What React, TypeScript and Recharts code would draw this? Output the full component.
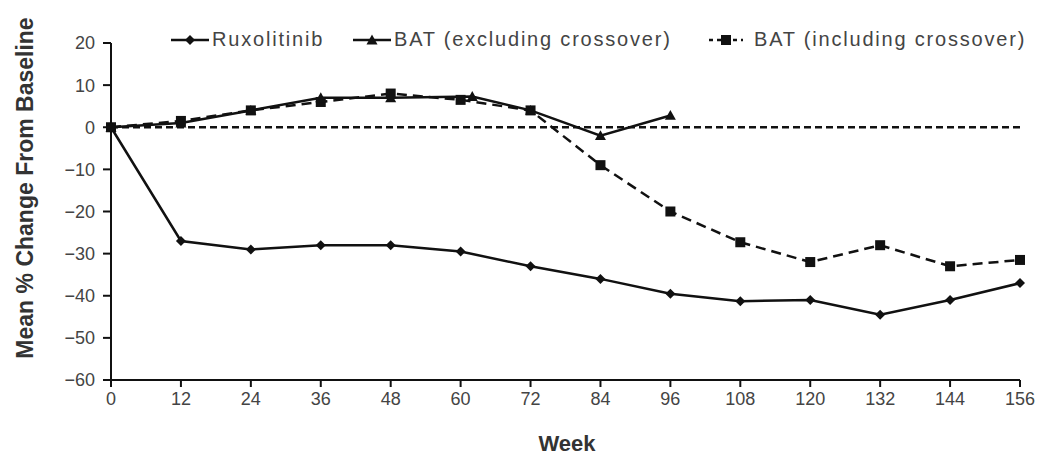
import React from 'react';
import {
  LineChart,
  Line,
  XAxis,
  YAxis,
  ReferenceLine,
} from 'recharts';

const weeks = [0, 12, 24, 36, 48, 60, 72, 84, 96, 108, 120, 132, 144, 156];
const ruxolitinib = [0, -27, -29, -28, -28, -29.5, -33, -36, -39.5, -41.3, -41, -44.5, -41, -37];
const batIncluding = [0, 1.5, 4, 6, 8, 6.5, 4, -9, -20, -27.3, -32, -28, -33, -31.5];
const batExcludingWeeks = [0, 12, 24, 36, 48, 62, 72, 84, 96];
const batExcluding = [0, 1, 4, 7, 7, 7.3, 4, -2, 2.8];
const yTicks = [-60, -50, -40, -30, -20, -10, 0, 10, 20];

const mainData = weeks.map((w, i) => ({ week: w, rux: ruxolitinib[i], batIn: batIncluding[i] }));
const exclData = batExcludingWeeks.map((w, i) => ({ week: w, batEx: batExcluding[i] }));

const INK = '#111';
const TEXT = '#444';
const FONT = '"Liberation Sans", Arial, sans-serif';

const Diamond = (props: any) => {
  const { cx, cy } = props;
  if (cx == null || cy == null) return null;
  const r = 5;
  return <polygon points={`${cx},${cy - r} ${cx + r},${cy} ${cx},${cy + r} ${cx - r},${cy}`} fill={INK} />;
};

const Triangle = (props: any) => {
  const { cx, cy } = props;
  if (cx == null || cy == null) return null;
  const r = 5.5;
  return <polygon points={`${cx},${cy - r} ${cx + r},${cy + r * 0.8} ${cx - r},${cy + r * 0.8}`} fill={INK} />;
};

const Square = (props: any) => {
  const { cx, cy } = props;
  if (cx == null || cy == null) return null;
  const r = 5;
  return <rect x={cx - r} y={cy - r} width={2 * r} height={2 * r} fill={INK} />;
};

// legend sits above the plot, positioned by hand
const legendItems = [
  { label: 'Ruxolitinib', marker: 'diamond', dashed: false, left: 170 },
  { label: 'BAT (excluding crossover)', marker: 'triangle', dashed: false, left: 352 },
  { label: 'BAT (including crossover)', marker: 'square', dashed: true, left: 708 },
];

const LegendRow = () => (
  <>
    {legendItems.map((item) => (
      <div
        key={item.label}
        style={{
          position: 'absolute',
          left: item.left,
          top: 28,
          display: 'flex',
          alignItems: 'center',
          fontFamily: FONT,
          fontSize: 20,
          letterSpacing: 1.8,
          color: TEXT,
          whiteSpace: 'nowrap',
        }}
      >
        <svg width={item.dashed ? 36 : 40} height={14}>
          <line x1={1} y1={7} x2={item.dashed ? 35 : 39} y2={7} stroke={INK} strokeWidth={2.5} strokeDasharray={item.dashed ? '4 4' : undefined} />
          {item.marker === 'diamond' && <Diamond cx={20} cy={7} />}
          {item.marker === 'triangle' && <Triangle cx={20} cy={7} />}
          {item.marker === 'square' && <Square cx={18} cy={7} />}
        </svg>
        <span style={{ marginLeft: item.dashed ? 10 : 2 }}>{item.label}</span>
      </div>
    ))}
  </>
);

const fmt = (v: number) => (v < 0 ? `\u2212${Math.abs(v)}` : `${v}`);

const YLabel = () => (
  <text x={33} y={188} transform="rotate(-90, 33, 188)" textAnchor="middle" fontFamily={FONT} fontWeight="bold" fontSize={23} fill="#333">
    Mean % Change From Baseline
  </text>
);

const XLabel = () => (
  <text x={567} y={451} textAnchor="middle" fontFamily={FONT} fontWeight="bold" fontSize={22} fill="#333">
    Week
  </text>
);

const App: React.FC = () => {
  return (
    <div style={{ position: 'fixed', left: 0, top: 0, width: 1041, height: 459, background: '#fff' }}>
      <LineChart width={1041} height={459} margin={{ top: 43, right: 21, left: 0, bottom: 0 }}>
        <XAxis
          dataKey="week"
          type="number"
          domain={[0, 156]}
          ticks={weeks}
          allowDuplicatedCategory={false}
          height={79}
          stroke={INK}
          strokeWidth={2}
          tick={{ fill: TEXT, fontSize: 18, fontFamily: FONT }}
          tickSize={7}
          tickMargin={5}
          label={<XLabel />}
        />
        <YAxis
          type="number"
          domain={[-60, 20]}
          ticks={yTicks}
          width={111}
          stroke={INK}
          strokeWidth={2}
          tickFormatter={fmt}
          tick={{ fill: TEXT, fontSize: 18, fontFamily: FONT }}
          tickSize={8}
          tickMargin={8}
          label={<YLabel />}
        />
        <ReferenceLine y={0} stroke={INK} strokeWidth={2.5} strokeDasharray="7 4" />
        <Line
          data={mainData}
          dataKey="batIn"
          name="BAT (including crossover)"
          stroke={INK}
          strokeWidth={2.5}
          strokeDasharray="10 6"
          dot={<Square />}
          isAnimationActive={false}
        />
        <Line
          data={exclData}
          dataKey="batEx"
          name="BAT (excluding crossover)"
          stroke={INK}
          strokeWidth={2.5}
          dot={<Triangle />}
          isAnimationActive={false}
        />
        <Line
          data={mainData}
          dataKey="rux"
          name="Ruxolitinib"
          stroke={INK}
          strokeWidth={2.5}
          dot={<Diamond />}
          isAnimationActive={false}
        />
      </LineChart>
      <LegendRow />
    </div>
  );
};

export default App;
